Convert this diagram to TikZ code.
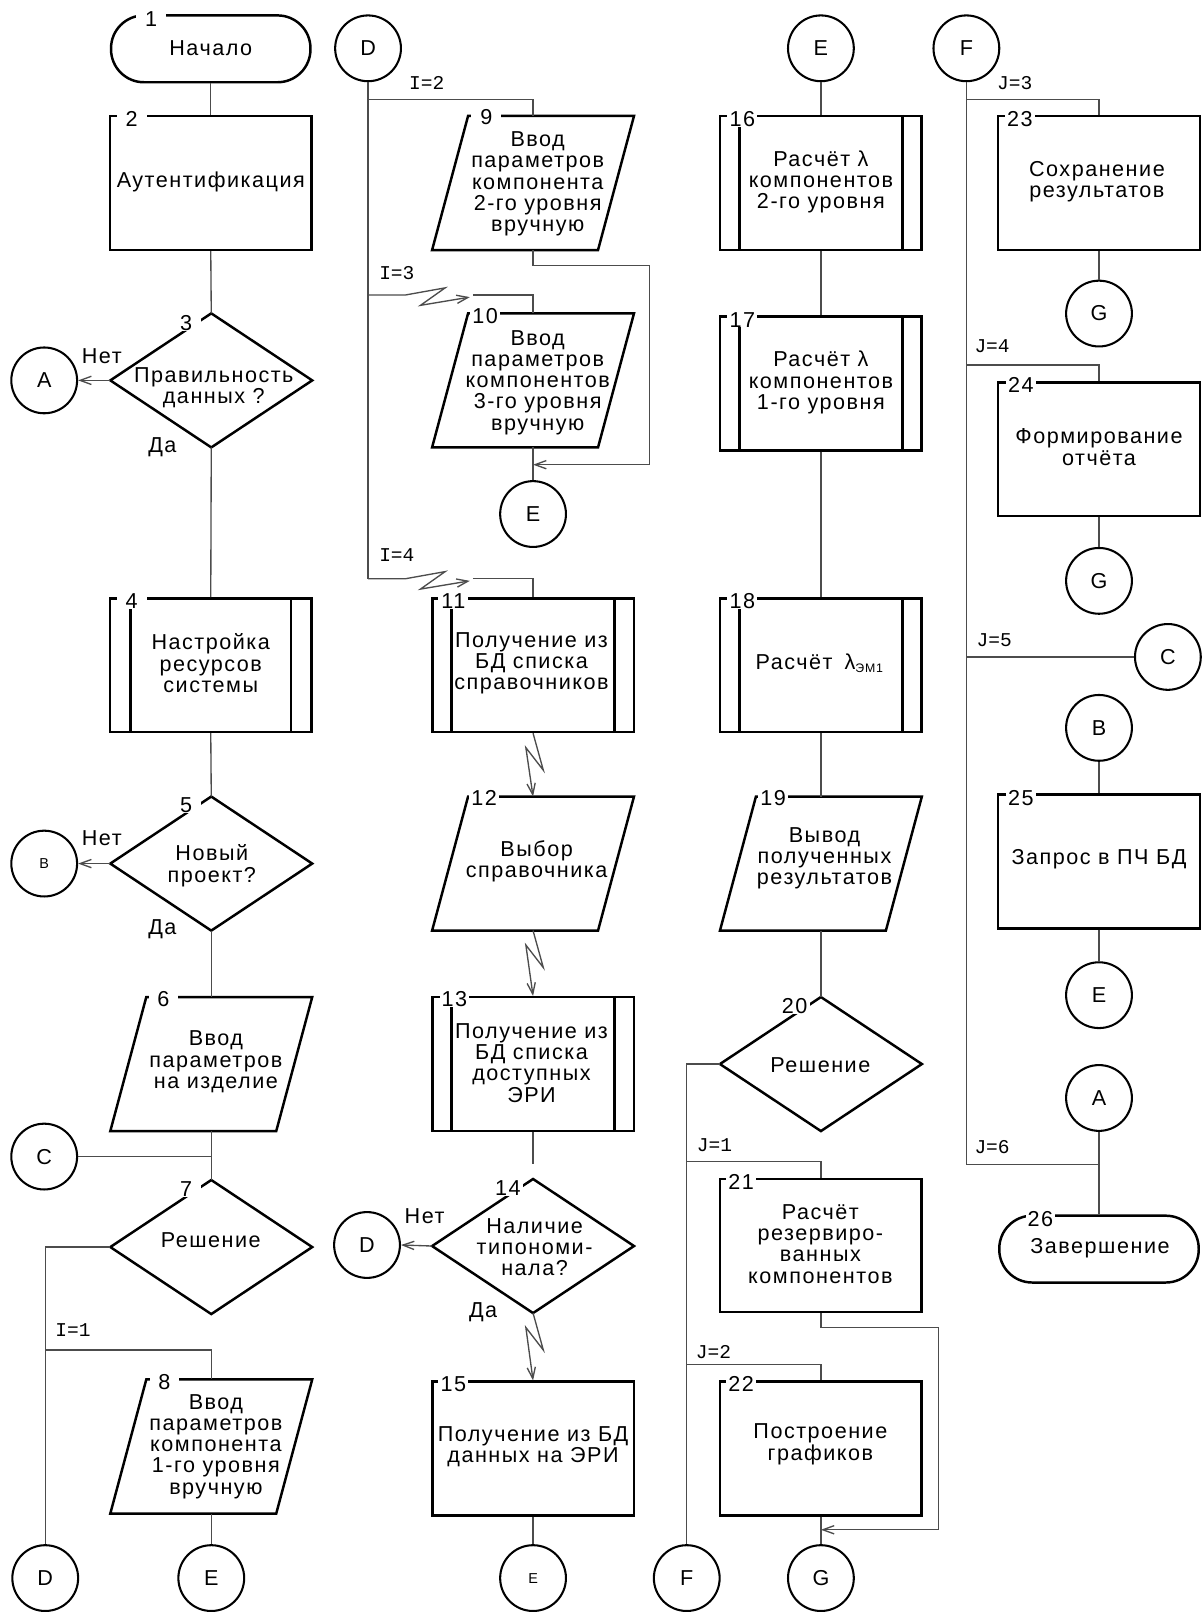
\documentclass[tikz,border=0pt]{standalone}
\usepackage{fontspec}
\setmainfont{Liberation Sans}[LetterSpace=7]
\newfontfamily\monof{Liberation Mono}
\usetikzlibrary{arrows.meta,calc}
\newcommand{\mfs}{\fontsize{21}{20.7}\selectfont}
\newcommand{\sfs}{\fontsize{14}{14}\selectfont}
\begin{document}
\begin{tikzpicture}[x=1pt,y=-1pt,
  shp/.style={draw=black, line width=2.4pt},
  ghost/.style={rectangle, inner sep=0pt, minimum width=196pt, minimum height=130pt},
  boxn/.style={ghost, draw=black, line width=2.4pt},
  term/.style={rectangle, draw=black, line width=2.4pt, rounded corners=32pt, minimum width=194pt, minimum height=65pt, inner sep=0pt},
  circ/.style={circle, draw=black, line width=2pt, minimum size=64pt, inner sep=0pt, font=\mfs},
  con/.style={draw=black!70, line width=1.3pt},
  arr/.style={con, -{Straight Barb[length=11pt,width=8pt]}},
  num/.style={fill=white, inner sep=0pt, minimum width=29pt, minimum height=15pt, font=\mfs},
  txt/.style={align=center, font=\mfs, inner sep=0pt},
  lab/.style={font=\monof\fontsize{19}{19}\selectfont, inner sep=0pt},
]
\useasboundingbox (0,0) rectangle (1170,1568);

% ================= Column 1
\node[term] (t1) at (205,47.5) {};
\node[txt] (t1t) at (205,47) {Начало};
\node[boxn] (b2) at (205,178) {};
\node[txt] (b2t) at (205,177) {Аутентификация};
\node[ghost] (d3) at (205.5,370) {};
\draw[shp] (d3.north) -- (d3.east) -- (d3.south) -- (d3.west) -- cycle;
\node[txt] (d3t) at (208,377) {Правильность\\данных ?};
\node[circ] (ca) at (43,370) {A};
\node[boxn] (b4) at (205,647) {};
\draw[shp] ([xshift=21pt]b4.north west) -- ([xshift=21pt]b4.south west);
\draw[shp] ([xshift=-21pt]b4.north east) -- ([xshift=-21pt]b4.south east);
\node[txt] (b4t) at (205,645) {Настройка\\ресурсов\\системы};
\node[ghost] (d5) at (205.5,840) {};
\draw[shp] (d5.north) -- (d5.east) -- (d5.south) -- (d5.west) -- cycle;
\node[txt] (d5t) at (206,842) {Новый\\проект?};
\node[circ, font=\sfs] (cb) at (43,840) {B};
\node[ghost] (p6) at (205.5,1035) {};
\draw[shp] ([xshift=35pt]p6.north west) -- (p6.north east) -- ([xshift=-35pt]p6.south east) -- (p6.south west) -- cycle;
\node[txt] (p6t) at (210,1033) {Ввод\\параметров\\на изделие};
\node[circ] (cc) at (43,1125) {C};
\node[ghost] (d7) at (205.5,1213) {};
\draw[shp] (d7.north) -- (d7.east) -- (d7.south) -- (d7.west) -- cycle;
\node[txt] (d7t) at (205,1206) {Решение};
\node[ghost] (p8) at (205.5,1407) {};
\draw[shp] ([xshift=35pt]p8.north west) -- (p8.north east) -- ([xshift=-35pt]p8.south east) -- (p8.south west) -- cycle;
\node[txt] (p8t) at (210,1407) {Ввод\\параметров\\компонента\\1-го уровня\\вручную};
\node[circ] (cd1) at (44,1535) {D};
\node[circ] (ce1) at (205.5,1535) {E};

\draw[con] (t1.south) -- (b2.north);
\draw[con] (b2.south) -- (d3.north);
\draw[arr] (d3.west) -- (ca.east);
\draw[con] (d3.south) -- (b4.north);
\draw[con] (b4.south) -- (d5.north);
\draw[arr] (d5.west) -- (cb.east);
\draw[con] (d5.south) -- (p6.north);
\draw[con] (p6.south) -- (d7.north);
\draw[con] (cc.east) -- (cc.east -| p6.south);
\draw[con] (d7.west) -| (cd1.north);
\coordinate (i1) at (44,1313);
\draw[con] (i1) -| (p8.north);
\draw[con] (p8.south) -- (ce1.north);

\node[txt] (n3) at (99,346) {Нет};
\node[txt] (y3) at (158,435) {Да};
\node[txt] (n5) at (99,815) {Нет};
\node[txt] (y5) at (158,904) {Да};
\node[lab] (li1) at (71,1294) {I=1};

% ================= Column 2
\node[circ] (cd2) at (358,47) {D};
\coordinate (i2) at (358,97);
\coordinate (i3) at (358,287);
\coordinate (i4) at (358,563);
\draw[con] (cd2.south) -- (i4);
\node[ghost] (p9) at (518.5,178) {};
\draw[shp] ([xshift=35pt]p9.north west) -- (p9.north east) -- ([xshift=-35pt]p9.south east) -- (p9.south west) -- cycle;
\node[txt] (p9t) at (523,179) {Ввод\\параметров\\компонента\\2-го уровня\\вручную};
\draw[con] (i2) -| (p9.north);
\node[ghost] (p10) at (518.5,370) {};
\draw[shp] ([xshift=35pt]p10.north west) -- (p10.north east) -- ([xshift=-35pt]p10.south east) -- (p10.south west) -- cycle;
\node[txt] (p10t) at (523,372) {Ввод\\параметров\\компонентов\\3-го уровня\\вручную};
\draw[arr] (i3) -- ++(36,0) -- ++(39,-7) -- ++(-24,17) -- ++(48,-8);
\coordinate (z3) at (460,287);
\draw[con] (z3) -| (p10.north);
\node[circ] (ce2) at (518.5,500) {E};
\draw[con] (p10.south) -- (ce2.north);
\coordinate (m10) at (518.5,452);
\draw[arr] (p9.south) -- ++(0,15) -| (632,452) -- (m10);
\node[boxn] (b11) at (518.5,647) {};
\draw[shp] ([xshift=20pt]b11.north west) -- ([xshift=20pt]b11.south west);
\draw[shp] ([xshift=-20pt]b11.north east) -- ([xshift=-20pt]b11.south east);
\node[txt] (b11t) at (517,645) {Получение из\\БД списка\\справочников};
\draw[arr] (i4) -- ++(36,0) -- ++(39,-7) -- ++(-24,17) -- ++(48,-8);
\coordinate (z4) at (460,563);
\draw[con] (z4) -| (b11.north);
\node[ghost] (p12) at (518.5,840) {};
\draw[shp] ([xshift=35pt]p12.north west) -- (p12.north east) -- ([xshift=-35pt]p12.south east) -- (p12.south west) -- cycle;
\node[txt] (p12t) at (522,838) {Выбор\\справочника};
\draw[arr] (b11.south) -- ++(10,36) -- ++(-17,-22) -- (p12.north);
\node[boxn] (b13) at (518.5,1035) {};
\draw[shp] ([xshift=20pt]b13.north west) -- ([xshift=20pt]b13.south west);
\draw[shp] ([xshift=-20pt]b13.north east) -- ([xshift=-20pt]b13.south east);
\node[txt] (b13t) at (517,1034) {Получение из\\БД списка\\доступных\\ЭРИ};
\draw[arr] (p12.south) -- ++(10,36) -- ++(-17,-22) -- (b13.north);
\draw[con] (b13.south) -- ++(0,31);
\node[ghost] (d14) at (518.5,1212) {};
\draw[shp] (d14.north) -- (d14.east) -- (d14.south) -- (d14.west) -- cycle;
\node[txt] (d14t) at (520,1213) {Наличие\\типономи-\\нала?};
\node[circ] (cd3) at (357,1211) {D};
\draw[arr] (d14.west) -- (cd3.east);
\node[boxn] (b15) at (518.5,1409) {};
\node[txt] (b15t) at (518.5,1407) {Получение из БД\\данных на ЭРИ};
\draw[arr] (d14.south) -- ++(10,36) -- ++(-17,-22) -- (b15.north);
\node[circ, font=\sfs] (ce3) at (518.5,1535) {E};
\draw[con] (b15.south) -- (ce3.north);

\node[lab] (li2) at (415,81) {I=2};
\node[lab] (li3) at (386,266) {I=3};
\node[lab] (li4) at (386,540) {I=4};
\node[txt] (n14) at (413,1183) {Нет};
\node[txt] (y14) at (470,1276) {Да};

% ================= Column 3
\node[circ] (ce4) at (798.5,47) {E};
\node[boxn] (b16) at (798.5,178) {};
\draw[shp] ([xshift=20pt]b16.north west) -- ([xshift=20pt]b16.south west);
\draw[shp] ([xshift=-20pt]b16.north east) -- ([xshift=-20pt]b16.south east);
\node[txt] (b16t) at (798.5,177) {Расчёт λ\\компонентов\\2-го уровня};
\node[boxn] (b17) at (798.5,373) {};
\draw[shp] ([xshift=20pt]b17.north west) -- ([xshift=20pt]b17.south west);
\draw[shp] ([xshift=-20pt]b17.north east) -- ([xshift=-20pt]b17.south east);
\node[txt] (b17t) at (798.5,372) {Расчёт λ\\компонентов\\1-го уровня};
\node[boxn] (b18) at (798.5,647) {};
\draw[shp] ([xshift=20pt]b18.north west) -- ([xshift=20pt]b18.south west);
\draw[shp] ([xshift=-20pt]b18.north east) -- ([xshift=-20pt]b18.south east);
\node[txt] (b18t) at (797,645) {Расчёт\hspace{0.55em}λ\raisebox{-3pt}{\fontsize{12}{12}\selectfont ЭМ1}};
\node[ghost] (p19) at (798.5,840) {};
\draw[shp] ([xshift=35pt]p19.north west) -- (p19.north east) -- ([xshift=-35pt]p19.south east) -- (p19.south west) -- cycle;
\node[txt] (p19t) at (802,835) {Вывод\\полученных\\результатов};
\node[ghost] (d20) at (798.5,1035) {};
\draw[shp] (d20.north) -- (d20.east) -- (d20.south) -- (d20.west) -- cycle;
\node[txt] (d20t) at (798,1036) {Решение};
\node[circ] (cf1) at (668,1535) {F};
\node[boxn, minimum height=129pt] (b21) at (798.5,1211.5) {};
\node[txt] (b21t) at (798,1210) {Расчёт\\резервиро-\\ванных\\компонентов};
\node[boxn] (b22) at (798.5,1409) {};
\node[txt] (b22t) at (798,1405) {Построение\\графиков};
\node[circ] (cg1) at (798.5,1535) {G};

\draw[con] (ce4.south) -- (b16.north);
\draw[con] (b16.south) -- (b17.north);
\draw[con] (b17.south) -- (b18.north);
\draw[con] (b18.south) -- (p19.north);
\draw[con] (p19.south) -- (d20.north);
\draw[con] (d20.west) -| (cf1.north);
\coordinate (j1) at (668,1130);
\draw[con] (j1) -| (b21.north);
\coordinate (j2) at (668,1327);
\draw[con] (j2) -| (b22.north);
\draw[con] (b22.south) -- (cg1.north);
\coordinate (m22) at (798.5,1488);
\draw[arr] (b21.south) -- ++(0,14) -| (913,1488) -- (m22);

\node[lab] (lj1) at (695,1114) {J=1};
\node[lab] (lj2) at (694,1315) {J=2};

% ================= Column 4
\node[circ] (cf2) at (940,47) {F};
\coordinate (j3) at (940,97);
\coordinate (j4) at (940,355);
\coordinate (j5) at (940,639);
\coordinate (j6) at (940,1133);
\draw[con] (cf2.south) -- (j6);
\node[boxn] (b23) at (1069,178) {};
\node[txt] (b23t) at (1067,177) {Сохранение\\результатов};
\draw[con] (j3) -| (b23.north);
\node[circ] (cg2) at (1069,305) {G};
\draw[con] (b23.south) -- (cg2.north);
\node[boxn] (b24) at (1069,437) {};
\node[txt] (b24t) at (1069,435) {Формирование\\отчёта};
\draw[con] (j4) -| (b24.north);
\node[circ] (cg3) at (1069,565) {G};
\draw[con] (b24.south) -- (cg3.north);
\node[circ] (cc2) at (1136,639) {C};
\draw[con] (j5) -- (cc2.west);
\node[circ] (cb2) at (1069,708) {B};
\node[boxn] (b25) at (1069,838) {};
\node[txt] (b25t) at (1069,836) {Запрос в ПЧ БД};
\draw[con] (cb2.south) -- (b25.north);
\node[circ] (ce5) at (1069,968) {E};
\draw[con] (b25.south) -- (ce5.north);
\node[circ] (ca2) at (1069,1068) {A};
\node[term] (t26) at (1069,1215) {};
\node[txt] (t26t) at (1070,1214) {Завершение};
\draw[con] (ca2.south) -- (t26.north);
\draw[con] (j6) -- (j6 -| ca2.south);

\node[lab] (lj3) at (987,81) {J=3};
\node[lab] (lj4) at (965,337) {J=4};
\node[lab] (lj5) at (967,623) {J=5};
\node[lab] (lj6) at (965,1116) {J=6};

% ================= Numbers
\node[num] (k1) at (147,19) {1};
\node[num] (k2) at (128,116) {2};
\node[num] (k3) at (181,314) {3};
\node[num] (k4) at (128,585) {4};
\node[num] (k5) at (181,783) {5};
\node[num] (k6) at (159,972) {6};
\node[num] (k7) at (181,1157) {7};
\node[num] (k8) at (160,1344) {8};
\node[num] (k9) at (473,114) {9};
\node[num] (k10) at (472,307) {10};
\node[num] (k11) at (441,585) {11};
\node[num] (k12) at (471,776) {12};
\node[num] (k13) at (442,972) {13};
\node[num] (k14) at (494,1156) {14};
\node[num] (k15) at (441,1346) {15};
\node[num] (k16) at (722,116) {16};
\node[num] (k17) at (722,311) {17};
\node[num] (k18) at (722,585) {18};
\node[num] (k19) at (752,776) {19};
\node[num] (k20) at (773,979) {20};
\node[num] (k21) at (721,1150) {21};
\node[num] (k22) at (721,1346) {22};
\node[num] (k23) at (992,116) {23};
\node[num] (k24) at (993,374) {24};
\node[num] (k25) at (993,776) {25};
\node[num] (k26) at (1012,1186) {26};
\end{tikzpicture}
\end{document}
